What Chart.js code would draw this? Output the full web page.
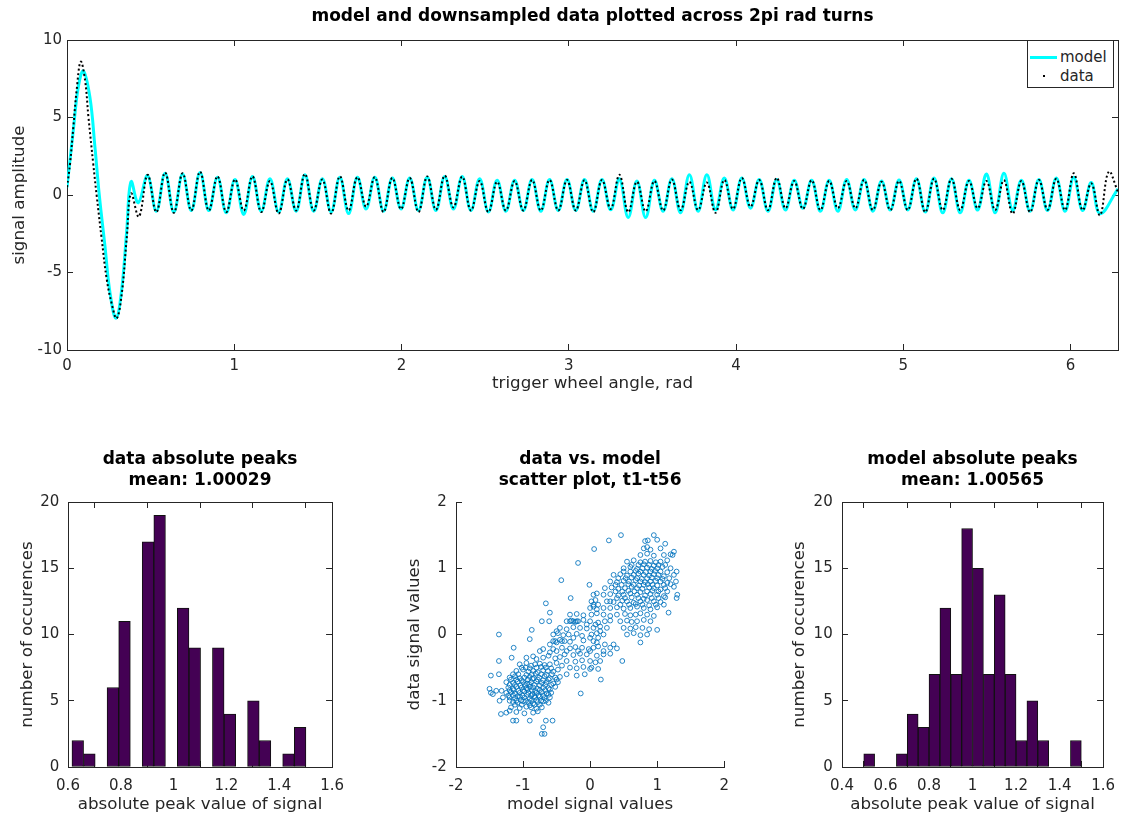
<!DOCTYPE html>
<html>
<head>
<meta charset="utf-8">
<title>model vs data</title>
<script src="https://cdn.jsdelivr.net/npm/chart.js@4.4.1/dist/chart.umd.min.js"></script>
<style>
    html, body { margin: 0; padding: 0; background: #fff; overflow: hidden; }
    body { width: 1131px; height: 816px; position: relative; }
    canvas { position: absolute; }
    #legend {
        position: absolute; left: 1027px; top: 40px; width: 85px; height: 46px;
        border: 1px solid #262626; background: #fff;
        font: 15px 'DejaVu Sans', sans-serif; color: #262626;
    }
    #legend .row { position: absolute; left: 0; height: 18px; line-height: 18px; }
    #legend .swatch { position: absolute; }
    #legend .lbl { position: absolute; left: 32px; }
</style>
</head>
<body>
<canvas id="signal-chart" width="1131" height="394" style="left:0;top:0"></canvas>
<canvas id="data-hist" width="360" height="376" style="left:0;top:440px"></canvas>
<canvas id="scatter-chart" width="345" height="376" style="left:400px;top:440px"></canvas>
<canvas id="model-hist" width="351" height="376" style="left:780px;top:440px"></canvas>
<div id="legend">
    <div class="row" style="top:7px;width:85px">
        <div class="swatch" style="left:2px;top:8px;width:27px;height:3px;background:#00ffff"></div>
        <span class="lbl">model</span>
    </div>
    <div class="row" style="top:26px;width:85px">
        <div class="swatch" style="left:15px;top:8px;width:2px;height:2px;background:#000"></div>
        <span class="lbl">data</span>
    </div>
</div>
<script>
// ---- top plot: signal over one wheel turn ----
// start of the trace (the big sync lobe)
const modelHeadAngle = [0, 0.038, 0.068, 0.098, 0.137, 0.167, 0.193, 0.227, 0.257, 0.293, 0.327, 0.357, 0.383, 0.426];
const modelHeadValue = [0.5, 4.2, 7.0, 8.0, 6.3, 3.1, 0, -3.3, -6.3, -7.95, -6.1, -2.3, 0.86, -0.5];
const dataHeadAngle = [0, 0.018, 0.038, 0.058, 0.082, 0.108, 0.128, 0.157, 0.177, 0.207, 0.237, 0.267, 0.297, 0.327, 0.357, 0.383, 0.43];
const dataHeadValue = [0.5, 2.0, 4.4, 6.8, 8.6, 7.4, 5.05, 2.0, 0, -2.8, -5.4, -7.0, -7.95, -6.4, -2.8, 0.1, -1.4];

// one peak and one trough per tooth after the lobe
const toothStart = 0.482;   // rad, first tooth peak
const toothPitch = 0.10447; // rad between teeth
const dataPeaks = [1.30, 1.45, 1.40, 1.50, 1.20, 1.00, 1.20, 0.90, 1.00, 1.35,
    1.00, 1.20, 1.15, 1.15, 1.10, 1.10, 1.20, 1.25, 1.18, 0.90,
    0.85, 0.90, 0.97, 0.97, 0.97, 0.95, 0.97, 1.30, 0.85, 0.90,
    1.00, 0.85, 0.80, 0.97, 1.10, 0.97, 1.10, 0.90, 0.95, 0.90,
    0.90, 0.97, 0.85, 0.90, 1.05, 1.05, 1.05, 0.90, 0.90, 0.95,
    0.90, 0.97, 1.05, 1.40, 0.75, 1.50];
const dataTroughs = [-1.10, -1.15, -1.00, -1.00, -1.10, -1.00, -1.10, -1.20, -1.00, -1.00,
    -1.20, -1.00, -0.75, -1.10, -0.90, -1.10, -0.95, -0.80, -1.00, -1.10,
    -1.00, -1.00, -1.00, -1.00, -1.00, -1.10, -0.90, -1.10, -1.05, -1.00,
    -0.97, -0.97, -1.15, -0.90, -0.75, -0.97, -0.85, -0.90, -0.97, -0.85,
    -0.85, -0.97, -0.97, -0.97, -1.10, -0.97, -0.97, -0.85, -0.97, -1.20,
    -1.10, -0.95, -0.97, -0.97, -1.30];
const modelPeaks = [1.25, 1.40, 1.35, 1.45, 1.15, 1.00, 1.20, 1.05, 1.05, 1.30,
    1.05, 1.15, 1.15, 1.15, 1.10, 1.10, 1.15, 1.20, 1.20, 1.05,
    0.95, 0.95, 1.00, 1.00, 1.00, 1.00, 1.00, 1.05, 0.90, 0.95,
    1.05, 1.30, 1.30, 1.10, 1.10, 1.00, 1.00, 0.95, 0.95, 0.95,
    1.00, 1.00, 0.90, 0.97, 1.05, 1.10, 1.05, 0.95, 1.35, 1.40,
    0.95, 1.00, 1.10, 1.15, 0.80];
const modelTroughs = [-1.05, -1.10, -1.00, -1.00, -1.15, -1.25, -1.05, -1.10, -1.05, -1.05,
    -1.10, -1.20, -0.90, -1.05, -0.90, -1.00, -1.00, -0.90, -1.00, -1.10,
    -1.05, -1.00, -1.05, -1.00, -1.00, -1.05, -0.95, -1.45, -1.45, -1.05,
    -1.15, -1.05, -0.97, -0.97, -0.85, -1.05, -0.97, -0.85, -1.05, -1.05,
    -0.97, -1.05, -0.97, -0.97, -1.10, -1.15, -1.15, -0.97, -1.15, -1.00,
    -1.05, -1.00, -1.05, -1.00, -1.20];
const modelTail = [[6.283, 0.4]];
const dataTail = [[6.283, 0.2]];

// ---- histograms ----
const dataBinCenters = [0.637, 0.681, 0.725, 0.770, 0.814, 0.858, 0.903, 0.947, 0.991, 1.036,
    1.080, 1.124, 1.169, 1.213, 1.257, 1.302, 1.346, 1.390, 1.435, 1.479];
const dataBinCounts = [2, 1, 0, 6, 11, 0, 17, 19, 0, 12, 9, 0, 9, 4, 0, 5, 2, 0, 1, 3];
const modelBinCenters = [0.525, 0.575, 0.625, 0.675, 0.725, 0.775, 0.825, 0.875, 0.925, 0.975,
    1.025, 1.075, 1.125, 1.175, 1.225, 1.275, 1.325, 1.375, 1.425, 1.475];
const modelBinCounts = [1, 0, 0, 1, 4, 3, 7, 12, 7, 18, 15, 7, 13, 7, 2, 5, 2, 0, 0, 2];

// ---- scatter: [model value, data value] ----
const lowerCluster = [
    [-0.75, -0.25], [-0.7, -0.22], [-0.6, -0.27], [-0.55, -0.22], [-0.5, -0.25],
    [-0.95, -0.35], [-0.85, -0.33], [-0.8, -0.37], [-0.7, -0.35], [-0.62, -0.32], [-0.52, -0.36], [-0.45, -0.34],
    [-1.05, -0.45], [-0.95, -0.43], [-0.88, -0.47], [-0.82, -0.45], [-0.75, -0.44], [-0.68, -0.46], [-0.6, -0.45], [-0.5, -0.43], [-0.42, -0.47],
    [-1.1, -0.55], [-1.0, -0.53], [-0.92, -0.56], [-0.85, -0.55], [-0.78, -0.57], [-0.7, -0.54], [-0.63, -0.55], [-0.55, -0.56], [-0.48, -0.53],
    [-1.2, -0.65], [-1.12, -0.63], [-1.05, -0.66], [-0.98, -0.65], [-0.9, -0.64], [-0.84, -0.66], [-0.76, -0.65], [-0.68, -0.63], [-0.6, -0.66], [-0.52, -0.65], [-0.45, -0.64],
    [-1.25, -0.72], [-1.15, -0.73], [-1.08, -0.71], [-1.0, -0.72], [-0.94, -0.74], [-0.88, -0.72], [-0.8, -0.71], [-0.72, -0.73], [-0.65, -0.72], [-0.55, -0.74], [-0.48, -0.72],
    [-1.22, -0.8], [-1.15, -0.82], [-1.1, -0.79], [-1.02, -0.8], [-0.95, -0.81], [-0.9, -0.79], [-0.85, -0.8], [-0.78, -0.82], [-0.7, -0.8], [-0.62, -0.81], [-0.52, -0.79],
    [-1.25, -0.88], [-1.18, -0.87], [-1.12, -0.89], [-1.05, -0.88], [-0.98, -0.86], [-0.92, -0.88], [-0.86, -0.9], [-0.8, -0.88], [-0.72, -0.87], [-0.65, -0.89], [-0.58, -0.88],
    [-1.2, -0.95], [-1.12, -0.96], [-1.05, -0.94], [-0.98, -0.95], [-0.9, -0.97], [-0.82, -0.95], [-0.75, -0.94], [-0.68, -0.96], [-0.6, -0.95],
    [-1.15, -1.02], [-1.08, -1.03], [-1.0, -1.01], [-0.92, -1.02], [-0.85, -1.04], [-0.78, -1.02], [-0.7, -1.01], [-0.62, -1.03],
    [-1.18, -1.1], [-1.05, -1.11], [-0.95, -1.09], [-0.88, -1.1], [-0.8, -1.12], [-0.72, -1.1],
    [-1.25, -1.18], [-1.1, -1.17], [-0.98, -1.19], [-0.85, -1.18], [-0.78, -1.16],
    [-1.4, -0.85], [-1.45, -0.9], [-1.5, -0.82], [-1.48, -0.88], [-1.3, -0.95], [-1.32, -0.85], [-1.35, -1.0]
];
const lowerCore = [
    [-1.02, -0.5], [-0.96, -0.5], [-0.9, -0.51], [-0.8, -0.5], [-0.73, -0.49], [-0.66, -0.5], [-0.58, -0.51],
    [-1.15, -0.6], [-1.07, -0.6], [-0.95, -0.61], [-0.87, -0.6], [-0.81, -0.59], [-0.73, -0.6], [-0.65, -0.61], [-0.57, -0.6],
    [-1.18, -0.68], [-1.1, -0.68], [-1.02, -0.69], [-0.93, -0.68], [-0.86, -0.67], [-0.78, -0.68], [-0.7, -0.69], [-0.62, -0.68], [-0.5, -0.68],
    [-1.2, -0.76], [-1.12, -0.76], [-1.04, -0.77], [-0.97, -0.76], [-0.91, -0.75], [-0.83, -0.76], [-0.75, -0.77], [-0.67, -0.76], [-0.58, -0.76],
    [-1.2, -0.84], [-1.14, -0.84], [-1.07, -0.85], [-1.0, -0.84], [-0.93, -0.83], [-0.87, -0.84], [-0.82, -0.85], [-0.75, -0.84], [-0.67, -0.84], [-0.6, -0.83],
    [-1.22, -0.92], [-1.15, -0.92], [-1.08, -0.93], [-1.01, -0.92], [-0.94, -0.91], [-0.88, -0.92], [-0.83, -0.93], [-0.77, -0.92], [-0.7, -0.92], [-0.62, -0.91],
    [-1.2, -1.0], [-1.1, -1.0], [-1.03, -0.99], [-0.96, -1.0], [-0.88, -1.0], [-0.8, -0.99], [-0.73, -1.0], [-0.66, -1.0],
    [-1.12, -1.06], [-1.02, -1.06], [-0.9, -1.07], [-0.83, -1.06], [-0.75, -1.06]
];
const middleBand = [
    [-0.55, -0.1], [-0.5, -0.12], [-0.45, -0.08], [-0.38, -0.1], [-0.3, -0.11], [-0.1, -0.09], [0.05, -0.1], [0.1, -0.12],
    [-0.55, 0.0], [-0.48, 0.02], [-0.4, -0.01], [-0.32, 0.0], [-0.2, 0.01], [-0.12, -0.02], [0.02, 0.0], [0.1, 0.02], [0.2, 0.0],
    [-0.45, 0.1], [-0.35, 0.08], [-0.25, 0.11], [-0.15, 0.1], [-0.05, 0.09], [0.05, 0.1], [0.15, 0.12], [0.25, 0.1],
    [-0.35, 0.2], [-0.28, 0.21], [-0.22, 0.19], [-0.18, 0.2], [-0.1, 0.22], [0.0, 0.2], [0.12, 0.18], [0.22, 0.2], [0.3, 0.21],
    [-0.3, 0.3], [-0.2, 0.31], [-0.1, 0.29], [0.02, 0.3], [0.1, 0.32], [0.2, 0.3], [0.3, 0.28],
    [-0.42, -0.2], [-0.3, -0.21], [-0.22, -0.19], [-0.12, -0.2], [-0.02, -0.22], [0.05, -0.2], [0.12, -0.18], [0.3, -0.2], [0.4, -0.21],
    [-0.38, -0.3], [-0.25, -0.31], [-0.15, -0.29], [-0.05, -0.3], [0.1, -0.32], [0.2, -0.3], [0.3, -0.29],
    [-0.35, -0.4], [-0.22, -0.41], [-0.12, -0.39], [0.0, -0.4], [0.08, -0.42], [0.15, -0.4],
    [-0.3, -0.5], [-0.2, -0.51], [-0.1, -0.49], [0.02, -0.5], [0.12, -0.52],
    [-0.35, -0.6], [-0.2, -0.62], [-0.08, -0.6],
    [0.0, 0.4], [0.05, 0.42], [0.1, 0.38], [0.2, 0.4],
    [0.02, 0.5], [0.08, 0.52], [0.3, 0.5],
    [0.05, 0.6], [0.1, 0.62],
    [-0.52, -0.1], [-0.42, -0.1], [-0.3, 0.2], [-0.25, 0.2], [-0.2, 0.2], [-0.05, 0.15], [0.08, 0.15],
    [0.0, -0.05], [0.12, -0.05], [-0.25, -0.05], [0.05, 0.45], [0.12, 0.45], [-0.35, -0.25], [-0.18, -0.25],
    [0.0, -0.25], [0.2, -0.25], [-0.5, 0.05], [0.15, 0.05], [-0.6, -0.15], [0.22, -0.15], [0.35, -0.15]
];
const upperCluster = [
    [0.8, 1.3], [0.85, 1.32], [0.9, 1.28], [1.05, 1.3],
    [0.75, 1.2], [0.85, 1.22], [0.95, 1.19], [1.1, 1.2], [1.2, 1.21],
    [0.55, 1.1], [0.65, 1.12], [0.75, 1.09], [0.82, 1.1], [0.9, 1.11], [0.98, 1.09], [1.05, 1.1], [1.15, 1.12],
    [0.5, 1.0], [0.6, 1.02], [0.7, 0.99], [0.78, 1.0], [0.85, 1.01], [0.92, 0.99], [1.0, 1.0], [1.08, 1.02], [1.2, 1.0],
    [0.35, 0.9], [0.45, 0.91], [0.55, 0.89], [0.65, 0.9], [0.72, 0.92], [0.8, 0.9], [0.88, 0.89], [0.95, 0.91], [1.02, 0.9], [1.1, 0.88], [1.25, 0.9],
    [0.3, 0.8], [0.4, 0.79], [0.5, 0.81], [0.58, 0.8], [0.68, 0.82], [0.75, 0.8], [0.82, 0.79], [0.9, 0.8], [0.98, 0.81], [1.05, 0.8], [1.15, 0.78], [1.28, 0.8],
    [0.22, 0.7], [0.32, 0.71], [0.42, 0.69], [0.52, 0.7], [0.62, 0.72], [0.7, 0.7], [0.78, 0.69], [0.88, 0.71], [0.95, 0.7], [1.05, 0.68], [1.12, 0.7], [1.25, 0.72],
    [0.2, 0.6], [0.3, 0.61], [0.42, 0.59], [0.5, 0.6], [0.6, 0.62], [0.7, 0.6], [0.82, 0.59], [0.9, 0.61], [1.0, 0.6], [1.1, 0.58], [1.3, 0.6],
    [0.25, 0.5], [0.35, 0.49], [0.48, 0.51], [0.55, 0.5], [0.65, 0.48], [0.75, 0.5], [0.85, 0.52], [0.95, 0.5], [1.05, 0.49],
    [0.3, 0.4], [0.4, 0.41], [0.5, 0.39], [0.6, 0.4], [0.7, 0.42], [0.8, 0.4], [0.9, 0.38], [1.0, 0.41],
    [0.4, 0.3], [0.52, 0.31], [0.6, 0.29], [0.68, 0.3], [0.75, 0.32], [0.85, 0.3], [0.95, 0.28], [1.17, 0.33],
    [0.45, 0.2], [0.55, 0.21], [0.62, 0.19], [0.7, 0.2], [0.8, 0.22], [0.9, 0.2],
    [0.5, 0.1], [0.6, 0.09], [0.68, 0.11], [0.78, 0.1], [0.88, 0.08],
    [0.55, 0.0], [0.65, 0.02], [0.75, -0.01], [0.85, 0.0]
];
const upperCore = [
    [0.45, 0.45], [0.58, 0.45], [0.68, 0.46], [0.78, 0.45], [0.88, 0.44], [0.98, 0.45], [1.1, 0.45],
    [0.4, 0.55], [0.52, 0.55], [0.62, 0.56], [0.72, 0.55], [0.8, 0.54], [0.92, 0.55], [1.02, 0.55], [1.12, 0.56],
    [0.38, 0.65], [0.48, 0.65], [0.57, 0.66], [0.66, 0.65], [0.75, 0.64], [0.85, 0.65], [0.93, 0.66], [1.02, 0.65], [1.15, 0.65],
    [0.38, 0.75], [0.47, 0.75], [0.57, 0.76], [0.65, 0.75], [0.73, 0.74], [0.8, 0.75], [0.86, 0.76], [0.93, 0.75], [1.0, 0.74], [1.1, 0.75], [1.2, 0.76],
    [0.42, 0.85], [0.53, 0.85], [0.62, 0.86], [0.7, 0.85], [0.77, 0.84], [0.85, 0.85], [0.92, 0.86], [1.0, 0.85], [1.08, 0.84], [1.18, 0.85],
    [0.5, 0.95], [0.6, 0.95], [0.68, 0.96], [0.75, 0.95], [0.83, 0.94], [0.9, 0.95], [0.97, 0.96], [1.05, 0.95], [1.15, 0.94],
    [0.62, 1.05], [0.72, 1.05], [0.8, 1.06], [0.88, 1.05], [0.95, 1.04], [1.02, 1.05], [1.12, 1.05]
];
const strayPoints = [
    [-1.36, 0.0], [-1.36, -0.4], [-1.36, -0.6], [-1.48, -0.62], [-1.14, -0.2], [-1.17, -0.35],
    [-0.9, -0.07], [-0.87, 0.07], [-0.72, 0.2], [-0.66, 0.47], [-0.6, 0.33], [-0.61, 0.2],
    [-0.43, 0.82], [-0.29, 0.55], [-0.18, 1.08], [0.06, 1.29], [-0.01, 0.75], [0.28, 1.42],
    [0.46, 1.5], [0.82, 1.41], [0.86, 1.42], [0.95, 1.5], [1.0, 1.43], [1.12, 1.37],
    [1.23, 1.2], [1.25, 1.25], [1.29, 0.95], [1.29, 0.55], [1.0, 0.07], [0.75, -0.12],
    [0.48, -0.4], [0.16, -0.68], [-0.14, -0.89], [0.0, -0.52], [-0.7, -1.4], [-0.72, -1.5],
    [-0.68, -1.5], [-0.66, -1.3], [-0.56, -1.3], [-1.2, -1.15], [-1.15, -1.3], [-1.1, -1.3],
    [-0.9, -1.3], [-1.33, -1.2]
];

// ---- shared styling ----
const INK = '#262626';
const FONT = "'DejaVu Sans', sans-serif";
const tickFont = { family: FONT, size: 15 };
const labelFont = { family: FONT, size: 16.7 };
const titleFont = { family: FONT, size: 17, weight: 'bold' };
const fmt = v => String(Number(v.toFixed(3)));

function mainAxis(min, max, step, title, position, size, labelPad, titlePad) {
    return {
        type: 'linear', position, min, max, offset: false,
        ticks: { stepSize: step, includeBounds: false, autoSkip: false, maxRotation: 0,
                 color: INK, font: tickFont, padding: labelPad, callback: fmt },
        grid: { drawOnChartArea: false, tickLength: -6, color: INK, lineWidth: 1 },
        border: { color: INK, width: 1 },
        title: { display: true, text: title, color: INK, font: labelFont, padding: titlePad },
        afterFit: s => { if (s.isHorizontal()) s.height = size; else s.width = size; }
    };
}

// unlabelled axis on the opposite side so the box is closed and ticks mirrored
function mirrorAxis(min, max, step, position) {
    return {
        type: 'linear', position, min, max, offset: false,
        ticks: { display: false, stepSize: step, includeBounds: false },
        grid: { drawOnChartArea: false, tickLength: -6, color: INK, lineWidth: 1 },
        border: { color: INK, width: 1 },
        afterFit: s => { if (s.isHorizontal()) s.height = 0; else s.width = 0; }
    };
}

function chartTitle(text, top, bottom) {
    return { display: true, text, color: '#000', font: titleFont, fullSize: false,
             padding: { top, bottom } };
}

function swingPoints(head, headVals, peaks, troughs, tail) {
    const pts = head.map((a, i) => ({ x: a, y: headVals[i] }));
    peaks.forEach((p, k) => {
        pts.push({ x: toothStart + k * toothPitch, y: p });
        if (k < troughs.length) pts.push({ x: toothStart + (k + 0.5) * toothPitch, y: troughs[k] });
    });
    tail.forEach(t => pts.push({ x: t[0], y: t[1] }));
    return pts;
}

Chart.defaults.font.family = FONT;
Chart.defaults.animation = false;

// Top: signal trace
new Chart(document.getElementById('signal-chart'), {
    type: 'line',
    data: {
        datasets: [{
            label: 'data',
            data: swingPoints(dataHeadAngle, dataHeadValue, dataPeaks, dataTroughs, dataTail),
            borderColor: '#000',
            borderWidth: 2,
            borderDash: [2, 2.5],
            pointRadius: 0,
            tension: 0.4,
            fill: false
        }, {
            label: 'model',
            data: swingPoints(modelHeadAngle, modelHeadValue, modelPeaks, modelTroughs, modelTail),
            borderColor: '#00ffff',
            borderWidth: 3,
            pointRadius: 0,
            tension: 0.4,
            fill: false
        }]
    },
    options: {
        responsive: false,
        parsing: false,
        layout: { padding: { left: 0, right: 13, top: 0, bottom: 0 } },
        plugins: {
            legend: { display: false },
            tooltip: { enabled: false },
            title: chartTitle('model and downsampled data plotted across 2pi rad turns', 6.8, 12.8)
        },
        scales: {
            x: mainAxis(0, 2 * Math.PI, 1, 'trigger wheel angle, rad', 'bottom', 44, 13, { top: 0, bottom: 0 }),
            y: mainAxis(-10, 10, 5, 'signal amplitude', 'left', 67, 11, { top: 10, bottom: 0 }),
            x2: mirrorAxis(0, 2 * Math.PI, 1, 'top'),
            y2: mirrorAxis(-10, 10, 5, 'right')
        }
    }
});

function histogram(canvasId, centers, counts, title, xMin, xMax, yAxisWidth, yLabelPad, yTitlePad, rightPad) {
    return new Chart(document.getElementById(canvasId), {
        type: 'bar',
        data: {
            datasets: [{
                data: centers.map((c, i) => ({ x: c, y: counts[i] })),
                backgroundColor: '#440154',
                borderColor: '#111',
                borderWidth: 1,
                borderSkipped: false,
                barPercentage: 1,
                categoryPercentage: 1
            }]
        },
        options: {
            responsive: false,
            layout: { padding: { left: 0, right: rightPad, top: 0, bottom: 0 } },
            plugins: {
                legend: { display: false },
                tooltip: { enabled: false },
                title: chartTitle(title, 9.8, 11.4)
            },
            scales: {
                x: mainAxis(xMin, xMax, 0.2, 'absolute peak value of signal', 'bottom', 49, 16, { top: 0, bottom: 1 }),
                y: mainAxis(0, 20, 5, 'number of occurences', 'left', yAxisWidth, yLabelPad, { top: yTitlePad, bottom: 0 }),
                x2: mirrorAxis(xMin, xMax, 0.2, 'top'),
                y2: mirrorAxis(0, 20, 5, 'right')
            }
        }
    });
}

histogram('data-hist', dataBinCenters, dataBinCounts, ['data absolute peaks', 'mean: 1.00029'],
    0.6, 1.6, 68, 14.7, 18, 17);
histogram('model-hist', modelBinCenters, modelBinCounts, ['model absolute peaks', 'mean: 1.00565'],
    0.4, 1.6, 62, 15.3, 10, 13);

// Middle: data vs. model scatter
const scatterPairs = lowerCluster.concat(lowerCore, middleBand, upperCluster, upperCore, strayPoints);
new Chart(document.getElementById('scatter-chart'), {
    type: 'scatter',
    data: {
        datasets: [{
            data: scatterPairs.map(p => ({ x: p[0], y: p[1] })),
            pointRadius: 2.4,
            pointBorderWidth: 1,
            pointBackgroundColor: 'rgba(0,0,0,0)',
            pointBorderColor: 'rgba(0,114,189,0.85)'
        }]
    },
    options: {
        responsive: false,
        layout: { padding: { left: 0, right: 14, top: 0, bottom: 0 } },
        plugins: {
            legend: { display: false },
            tooltip: { enabled: false },
            title: chartTitle(['data vs. model', 'scatter plot, t1-t56'], 9.8, 11.4)
        },
        scales: {
            x: mainAxis(-2, 2, 1, 'model signal values', 'bottom', 49, 16, { top: 0, bottom: 1 }),
            y: mainAxis(-2, 2, 1, 'data signal values', 'left', 56, 15.3, { top: 5, bottom: 0 })
        }
    }
});
</script>
</body>
</html>
